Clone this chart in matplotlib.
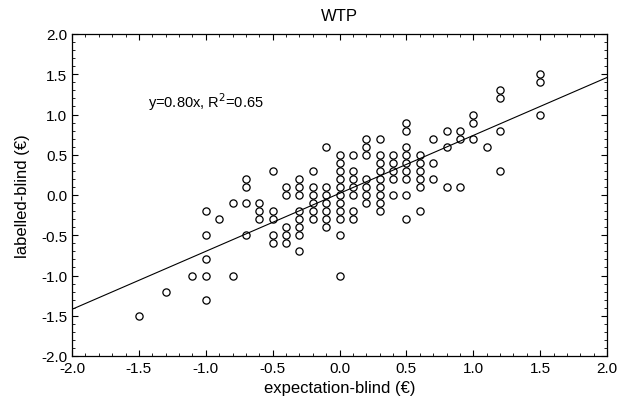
import numpy as np
import matplotlib
matplotlib.use("Agg")
import matplotlib.pyplot as plt
from matplotlib.ticker import MultipleLocator, FormatStrFormatter

plt.rcParams['font.family'] = ['Liberation Sans', 'DejaVu Sans']
plt.rcParams['axes.unicode_minus'] = False

# data: columns of expectation-blind values and the labelled-blind values in each
x_cols = [-1.5, -1.3, -1.1, -1.0, -0.9, -0.8, -0.7, -0.6, -0.5, -0.4, -0.3, -0.2, -0.1,
          0.0, 0.1, 0.2, 0.3, 0.4, 0.5, 0.6, 0.7, 0.8, 0.9, 1.0, 1.1, 1.2, 1.5]
y_cols = [
    [-1.5],
    [-1.2],
    [-1.0],
    [-0.2, -0.5, -0.8, -1.0, -1.3],
    [-0.3],
    [-0.1, -1.0],
    [0.2, 0.1, -0.1, -0.5],
    [-0.1, -0.2, -0.3],
    [0.3, -0.2, -0.3, -0.5, -0.6],
    [0.1, 0.0, -0.4, -0.5, -0.6],
    [0.2, 0.1, 0.0, -0.2, -0.3, -0.4, -0.5, -0.7],
    [0.3, 0.1, 0.0, -0.1, -0.2, -0.3],
    [0.6, 0.1, 0.0, -0.1, -0.2, -0.3, -0.4],
    [0.5, 0.4, 0.3, 0.2, 0.1, 0.0, -0.1, -0.2, -0.3, -0.5, -1.0],
    [0.5, 0.3, 0.2, 0.1, 0.0, -0.2, -0.3],
    [0.7, 0.6, 0.5, 0.2, 0.1, 0.0, -0.1],
    [0.7, 0.5, 0.4, 0.3, 0.2, 0.1, 0.0, -0.1, -0.2],
    [0.5, 0.4, 0.3, 0.2, 0.0],
    [0.9, 0.8, 0.6, 0.5, 0.4, 0.3, 0.2, 0.0, -0.3],
    [0.5, 0.4, 0.3, 0.2, 0.1, -0.2],
    [0.7, 0.4, 0.2],
    [0.8, 0.6, 0.1],
    [0.8, 0.7, 0.1],
    [1.0, 0.9, 0.7],
    [0.6],
    [1.3, 1.2, 0.8, 0.3],
    [1.5, 1.4, 1.0],
]

# fitted line as drawn
fit_slope = 0.72
fit_intercept = 0.02
fit_label = "y=0.80x, R$^2$=0.65"

x = []
y = []
for xc, ys in zip(x_cols, y_cols):
    for yv in ys:
        x.append(xc)
        y.append(yv)

fig = plt.figure(figsize=(6.34, 4.10), dpi=100)
ax = fig.add_axes([72 / 634, 1 - 357 / 410, 535 / 634, 322 / 410])

ax.plot(x, y, 'o', markerfacecolor='none', markeredgecolor='black',
        markersize=5.2, markeredgewidth=0.9, linestyle='none')

xs = np.array([-2.0, 2.0])
ax.plot(xs, fit_slope * xs + fit_intercept, color='black', linewidth=0.8)

ax.text(-1.43, 1.17, fit_label, fontsize=10.5, ha='left', va='center')

ax.set_xlim(-2, 2)
ax.set_ylim(-2, 2)
ax.xaxis.set_major_locator(MultipleLocator(0.5))
ax.yaxis.set_major_locator(MultipleLocator(0.5))
ax.xaxis.set_minor_locator(MultipleLocator(0.1))
ax.yaxis.set_minor_locator(MultipleLocator(0.1))
ax.xaxis.set_major_formatter(FormatStrFormatter('%.1f'))
ax.yaxis.set_major_formatter(FormatStrFormatter('%.1f'))
ax.tick_params(which='both', direction='in', top=True, right=True, labelsize=11)
ax.tick_params(which='major', length=4, width=0.8)
ax.tick_params(which='minor', length=2, width=0.6)
for s in ax.spines.values():
    s.set_linewidth(0.9)

ax.set_title("WTP", fontsize=12, pad=10)
ax.set_xlabel("expectation-blind (€)", fontsize=12, labelpad=4)
ax.set_ylabel("labelled-blind (€)", fontsize=12, labelpad=8)

fig.savefig("out.png", dpi=100)
